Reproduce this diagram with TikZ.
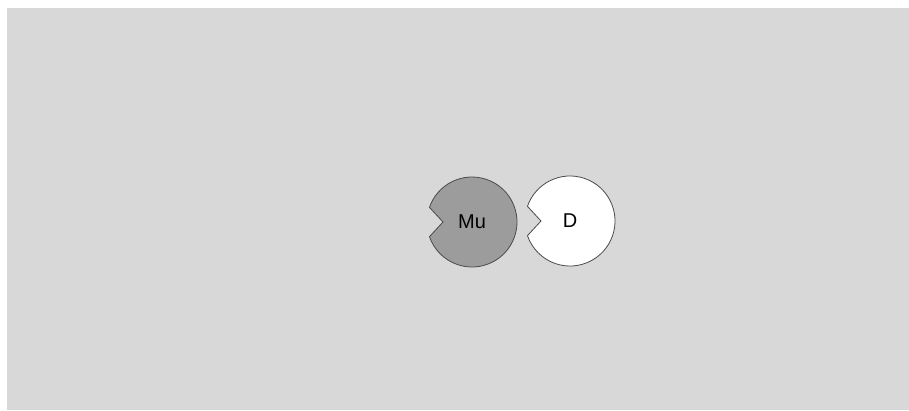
\documentclass[tikz,border=0pt]{standalone}
\usepackage{fontspec}
\setmainfont{Liberation Sans}
\definecolor{bggray}{HTML}{D8D8D8}
\definecolor{mugray}{HTML}{9C9C9C}
\definecolor{edgegray}{HTML}{4A4A4A}

\begin{document}
\begin{tikzpicture}
            [%%%%%%%%%%%%%%%%%%%%%%%%%%%%%%%%%%%%%%%%%%%%%%%%%%%%%%%%%%
                x=1pt,y=-1pt,
                notched/.pic={
                    \draw[pic actions] (161:45pt) arc (161:-161:45pt)
                        -- (-29pt,0pt) -- cycle;
                    \node[font=\fontsize{20}{24}\selectfont] (-label) {#1};
                },
                disc/.style={draw=edgegray,line width=0.8pt}
            ]%%%%%%%%%%%%%%%%%%%%%%%%%%%%%%%%%%%%%%%%%%%%%%%%%%%%%%%%%%
            \useasboundingbox (0,0) rectangle (909,410);
            \fill[bggray] (7,8) rectangle (909,410);

            \pic[disc,fill=mugray] (mu) at (472,222) {notched=Mu};
            \pic[disc,fill=white]  (d)  at (570,221) {notched=D};
        \end{tikzpicture}
\end{document}
